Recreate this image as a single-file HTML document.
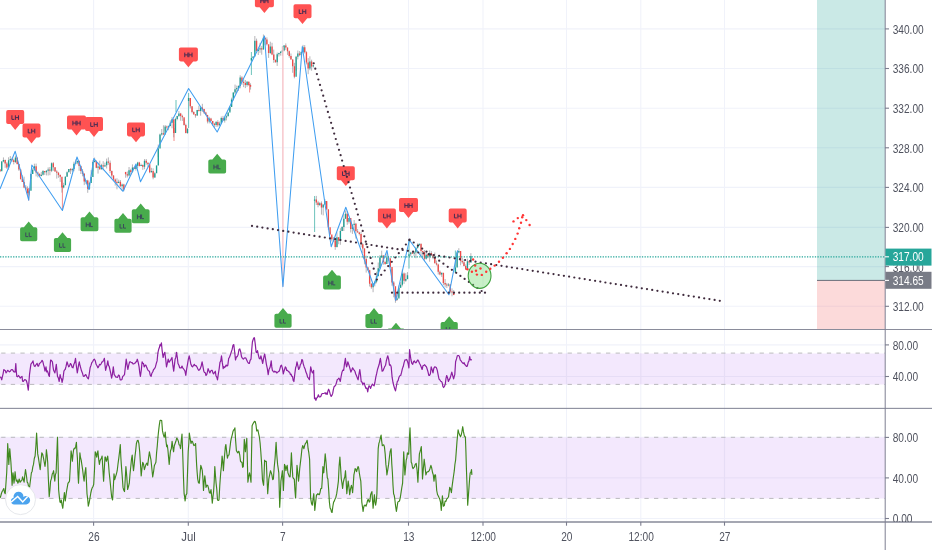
<!DOCTYPE html>
<html><head><meta charset="utf-8"><title>Chart</title>
<style>
html,body{margin:0;padding:0;background:#fff;}
body{width:932px;height:550px;overflow:hidden;font-family:"Liberation Sans",sans-serif;}
svg{display:block;font-family:"Liberation Sans",sans-serif;will-change:transform;}
</style></head><body>
<svg width="932" height="550" viewBox="0 0 932 550">
<defs><clipPath id="mainclip"><rect x="0" y="-20" width="885" height="349.5"/></clipPath>
<filter id="soft" x="-2%" y="-5%" width="104%" height="110%"><feGaussianBlur stdDeviation="0.42"/></filter>
<clipPath id="zclip"><rect x="885" y="500" width="60" height="21.899999999999977"/></clipPath></defs>
<rect width="932" height="550" fill="#fff"/>
<g stroke="#F0F2FA" stroke-width="1.1"><line x1="93.6" y1="0" x2="93.6" y2="521.9"/><line x1="188.3" y1="0" x2="188.3" y2="521.9"/><line x1="282.6" y1="0" x2="282.6" y2="521.9"/><line x1="408.5" y1="0" x2="408.5" y2="521.9"/><line x1="483.0" y1="0" x2="483.0" y2="521.9"/><line x1="566.5" y1="0" x2="566.5" y2="521.9"/><line x1="640.8" y1="0" x2="640.8" y2="521.9"/><line x1="724.5" y1="0" x2="724.5" y2="521.9"/><line x1="0" y1="28.9" x2="885" y2="28.9"/><line x1="0" y1="68.5" x2="885" y2="68.5"/><line x1="0" y1="108.2" x2="885" y2="108.2"/><line x1="0" y1="147.8" x2="885" y2="147.8"/><line x1="0" y1="187.4" x2="885" y2="187.4"/><line x1="0" y1="227.4" x2="885" y2="227.4"/><line x1="0" y1="266.6" x2="885" y2="266.6"/><line x1="0" y1="306.3" x2="885" y2="306.3"/><line x1="0" y1="344.9" x2="885" y2="344.9"/><line x1="0" y1="376.5" x2="885" y2="376.5"/><line x1="0" y1="437.4" x2="885" y2="437.4"/><line x1="0" y1="477.9" x2="885" y2="477.9"/><line x1="0" y1="518.5" x2="885" y2="518.5"/></g>
<rect x="817" y="0" width="68" height="280.4" fill="#26A69A" fill-opacity="0.245"/>
<rect x="817" y="280.4" width="68" height="49.10000000000002" fill="#F2514E" fill-opacity="0.21"/>
<line x1="817" y1="280.4" x2="885" y2="280.4" stroke="#6a6d78" stroke-width="1"/>
<rect x="0" y="353.5" width="885" height="31.0" fill="#F3E8FD"/>
<rect x="0" y="437.3" width="885" height="61.19999999999999" fill="#F3E8FD"/>
<g stroke="#E6DDF6" stroke-width="1"><line x1="0" y1="376.5" x2="885" y2="376.5"/><line x1="0" y1="477.9" x2="885" y2="477.9"/></g>
<g stroke="#E6DDF6" stroke-width="1.2"><line x1="93.6" y1="353.2" x2="93.6" y2="384.2"/><line x1="93.6" y1="437.4" x2="93.6" y2="498.1"/><line x1="188.3" y1="353.2" x2="188.3" y2="384.2"/><line x1="188.3" y1="437.4" x2="188.3" y2="498.1"/><line x1="282.6" y1="353.2" x2="282.6" y2="384.2"/><line x1="282.6" y1="437.4" x2="282.6" y2="498.1"/><line x1="408.5" y1="353.2" x2="408.5" y2="384.2"/><line x1="408.5" y1="437.4" x2="408.5" y2="498.1"/><line x1="483.0" y1="353.2" x2="483.0" y2="384.2"/><line x1="483.0" y1="437.4" x2="483.0" y2="498.1"/><line x1="566.5" y1="353.2" x2="566.5" y2="384.2"/><line x1="566.5" y1="437.4" x2="566.5" y2="498.1"/><line x1="640.8" y1="353.2" x2="640.8" y2="384.2"/><line x1="640.8" y1="437.4" x2="640.8" y2="498.1"/><line x1="724.5" y1="353.2" x2="724.5" y2="384.2"/><line x1="724.5" y1="437.4" x2="724.5" y2="498.1"/></g>
<g stroke="#B9B9BD" stroke-width="1" stroke-dasharray="4.3 5.3" stroke-dashoffset="-1.2"><line x1="0" y1="353.1" x2="885" y2="353.1"/><line x1="0" y1="384.4" x2="885" y2="384.4"/><line x1="0" y1="437.3" x2="885" y2="437.3"/><line x1="0" y1="498.4" x2="885" y2="498.4"/></g>
<g filter="url(#soft)">
<path d="M1.72 161.1V170.2M3.44 157.4V162.3M8.60 157.3V169.9M10.32 156.0V161.7M15.48 155.7V163.0M29.24 188.3V195.4M30.96 173.7V178.9M32.68 168.2V174.0M34.40 163.7V171.1M41.28 171.9V176.4M43.00 170.0V175.5M46.44 170.1V175.4M48.16 167.4V175.5M51.60 162.4V172.1M63.64 182.8V188.3M65.36 176.2V182.2M67.08 171.4V176.6M68.80 169.0V172.2M72.24 167.9V171.9M73.96 161.7V171.2M75.68 159.5V163.8M77.40 160.8V164.3M86.00 180.3V184.1M89.44 182.1V189.6M91.16 170.1V180.6M92.88 160.3V171.5M94.60 157.6V162.5M98.04 162.6V173.6M101.48 163.8V169.5M104.92 162.7V166.8M106.64 158.6V168.5M118.68 179.7V183.2M122.12 183.6V191.0M129.04 167.0V176.3M132.48 164.4V172.7M135.92 165.2V170.6M137.64 161.8V167.9M141.08 163.7V166.1M144.52 159.1V169.2M151.40 167.8V172.5M154.84 172.2V177.8M156.56 165.5V171.0M158.28 144.5V156.9M160.00 133.6V142.5M161.72 129.0V135.6M165.16 125.0V130.6M168.60 125.5V130.2M170.32 120.4V126.3M172.04 117.1V128.3M175.48 117.7V123.0M177.20 115.8V120.3M178.92 111.1V116.9M187.52 128.2V133.8M197.20 109.9V115.8M200.64 107.1V115.7M209.24 116.8V123.4M216.12 121.0V126.9M219.56 121.6V126.0M221.28 116.5V120.4M224.72 117.4V122.6M226.44 115.3V120.4M228.16 112.5V116.2M229.88 106.4V111.0M231.60 97.7V105.8M233.32 92.4V100.6M235.04 84.6V94.2M236.76 85.6V92.7M238.48 85.3V90.9M240.20 75.3V88.3M247.08 81.1V86.7M253.12 56.3V58.0M254.84 36.0V51.7M258.28 48.9V55.0M260.00 42.9V52.8M263.44 34.5V49.6M270.32 41.7V53.9M277.20 52.6V65.9M278.92 52.7V56.5M280.64 51.0V55.6M282.36 46.4V55.8M284.08 45.0V51.3M296.12 55.9V70.6M297.84 50.5V59.4M301.28 51.5V56.5M303.00 44.9V53.0M309.88 56.3V70.2M313.32 65.1V67.6M319.76 202.1V206.0M323.20 204.6V215.4M324.92 199.1V205.2M336.96 232.3V247.5M340.40 228.2V244.8M342.12 226.1V231.1M343.84 214.1V231.0M345.56 210.5V218.8M349.00 218.1V223.5M352.44 224.1V233.9M354.16 220.0V230.7M373.08 283.2V292.2M374.80 280.6V286.4M376.52 271.7V283.3M378.24 262.5V274.3M379.96 255.1V269.3M381.68 250.7V257.8M386.84 253.1V262.1M397.16 293.6V300.6M398.88 285.5V296.8M400.60 282.1V287.8M402.32 269.5V286.4M405.76 273.2V281.8M407.48 272.1V279.4M410.72 251.8V256.4M414.16 251.2V256.1M415.88 246.9V258.2M417.60 243.4V248.7M419.32 243.7V245.5M426.20 251.2V259.6M429.64 250.4V261.7M441.68 272.7V276.9M448.56 283.1V286.4M457.12 251.6V266.5M458.84 248.2V253.3M467.44 258.6V270.0M470.88 253.2V262.6M0.00 169.0V172.1M5.16 159.6V167.8M6.88 162.1V168.9M12.04 157.6V161.9M13.76 158.7V164.4M17.20 157.9V164.6M18.92 164.4V170.9M20.64 169.8V179.7M22.36 175.2V182.0M24.08 176.7V188.2M25.80 185.2V190.0M27.52 186.4V195.3M36.12 163.6V176.4M37.84 171.5V177.4M39.56 173.6V176.5M44.72 171.1V174.9M49.88 167.0V175.2M53.32 162.1V170.8M55.04 167.3V171.7M56.76 170.2V178.6M58.48 171.9V177.8M60.20 174.4V181.9M61.92 180.4V192.6M70.52 168.1V174.0M79.12 160.4V170.8M80.84 165.5V174.0M82.56 169.0V176.3M84.28 173.1V185.1M87.72 179.8V192.8M96.32 161.0V168.2M99.76 160.7V169.7M103.20 161.2V170.3M108.36 157.4V164.8M110.08 160.5V173.2M111.80 170.5V177.9M113.52 175.3V181.1M115.24 178.5V185.6M116.96 178.3V189.3M120.40 180.0V186.8M123.84 183.8V191.2M125.60 171.8V177.7M127.32 171.5V177.5M130.76 168.8V174.8M134.20 167.1V169.1M139.36 161.8V166.5M142.80 164.5V169.9M146.24 159.0V164.7M147.96 162.4V167.3M149.68 166.3V173.2M153.12 168.3V179.3M163.44 125.3V135.0M166.88 125.6V129.7M173.76 124.3V137.3M180.64 112.9V120.7M182.36 114.7V120.9M184.08 118.6V125.6M185.80 123.7V133.4M190.32 98.5V108.4M192.04 106.2V113.3M193.76 111.3V115.0M195.48 114.2V117.7M198.92 105.7V111.5M202.36 103.8V111.9M204.08 108.8V113.9M205.80 111.8V115.2M207.52 114.8V123.4M210.96 117.8V121.7M212.68 120.9V125.7M214.40 122.8V127.9M217.84 120.2V126.8M223.00 115.9V120.9M241.92 76.2V84.8M243.64 79.4V87.1M245.36 80.0V88.1M248.80 81.5V85.8M250.52 83.3V89.6M256.56 38.6V51.0M261.72 45.9V54.7M265.16 37.6V45.1M266.88 37.4V45.5M268.60 44.9V57.9M272.04 42.8V55.2M273.76 49.6V62.8M275.48 59.3V62.6M285.80 43.4V49.9M287.52 47.5V54.9M289.24 50.6V57.7M290.96 53.5V59.5M292.68 59.3V72.8M294.40 62.8V78.3M299.56 51.1V56.2M304.72 45.1V53.5M306.44 51.3V64.4M308.16 58.1V74.2M311.60 59.7V70.7M316.32 195.9V205.0M318.04 200.8V207.3M321.48 201.4V214.6M326.64 202.2V210.1M328.36 218.1V229.9M330.08 231.5V234.5M331.80 236.3V241.4M333.52 237.2V242.0M335.24 237.7V249.8M338.68 237.2V244.2M347.28 211.0V224.8M350.72 220.2V232.5M355.88 222.9V238.6M357.60 228.9V232.4M359.32 231.8V235.4M361.04 232.1V247.2M362.76 243.5V253.1M364.48 248.4V264.3M366.20 255.7V272.6M367.92 267.0V270.3M369.64 269.8V286.5M371.36 283.2V288.8M383.40 255.3V264.7M385.12 260.7V264.9M388.56 256.8V260.7M390.28 257.9V267.9M392.00 268.8V285.7M393.72 281.1V297.3M395.44 289.2V302.8M404.04 272.5V283.9M412.44 251.3V253.9M421.04 243.7V256.5M422.76 250.7V256.1M424.48 250.0V260.8M427.92 253.8V258.3M431.36 251.1V255.9M433.08 254.2V259.2M434.80 252.5V263.4M436.52 260.5V265.5M438.24 263.7V274.5M439.96 270.5V275.3M443.40 275.4V285.3M445.12 279.0V287.3M446.84 282.9V288.0M450.28 284.4V293.3M452.00 288.4V296.3M453.72 290.1V295.1M460.56 252.7V265.3M462.28 257.9V263.7M464.00 259.6V266.3M465.72 264.4V269.9M469.16 260.5V265.0" stroke="#6E6A72" stroke-width="0.85" fill="none" opacity="0.6"/>
<path d="M188.60 93.0V128.0M251.40 52.0V75.0M314.60 196.0V232.0M409.00 239.5V268.6M455.40 250.5V272.0M176 100V112" stroke="#26A69A" stroke-width="0.9" fill="none" opacity="0.75"/>
<path d="M62.4 186V209M28.7 188V200.5M174 128V141M249.6 84V92.5M396 292V301" stroke="#EF5350" stroke-width="0.9" fill="none" opacity="0.75"/>
<path d="M1.72 161.6V171.2M3.44 160.1V161.6M8.60 160.2V167.6M10.32 159.0V160.2M15.48 157.6V162.1M29.24 190.8V193.2M30.96 174.0V190.8M32.68 169.7V174.0M34.40 166.2V169.7M41.28 174.8V176.0M43.00 171.1V174.8M46.44 170.8V172.3M48.16 169.6V170.8M51.60 163.3V170.8M63.64 185.3V187.4M65.36 176.8V185.3M67.08 172.2V176.8M68.80 169.1V172.2M72.24 169.1V170.3M73.96 163.7V169.1M75.68 162.4V163.7M77.40 160.9V162.4M86.00 180.4V181.6M89.44 183.0V188.7M91.16 177.1V183.0M92.88 162.1V177.1M94.60 160.7V162.1M98.04 166.6V167.8M101.48 165.2V169.3M104.92 165.2V166.4M106.64 161.6V165.2M118.68 181.7V182.9M122.12 184.6V186.2M129.04 170.3V175.4M132.48 167.5V172.1M135.92 165.7V169.1M137.64 162.5V165.7M141.08 164.9V166.1M144.52 160.7V166.8M151.40 171.1V172.3M154.84 173.2V177.5M156.56 165.5V173.2M158.28 148.5V165.5M160.00 134.4V148.5M161.72 133.2V134.4M165.16 126.4V134.4M168.60 126.0V127.6M170.32 122.7V126.0M172.04 119.2V122.7M175.48 118.9V132.9M177.20 116.0V118.9M178.92 113.4V116.0M187.52 128.8V133.0M188.60 98.1V101.1M197.20 109.9V115.5M200.64 107.6V111.1M209.24 118.5V121.4M216.12 122.0V125.1M219.56 123.5V125.3M221.28 118.1V123.5M224.72 117.5V120.4M226.44 116.3V117.5M228.16 112.5V116.3M229.88 106.9V112.5M231.60 99.5V106.9M233.32 92.4V99.5M235.04 89.3V92.4M236.76 88.1V89.3M238.48 85.9V88.1M240.20 77.6V85.9M247.08 81.8V85.0M251.40 57.9V60.5M253.12 56.5V57.9M254.84 40.8V56.5M258.28 49.5V51.0M260.00 48.3V49.5M263.44 37.8V49.5M270.32 46.5V52.9M277.20 54.2V62.3M278.92 53.0V54.2M280.64 51.8V53.0M282.36 50.6V51.8M284.08 45.4V50.6M296.12 56.7V76.7M297.84 53.5V56.7M301.28 52.0V55.0M303.00 47.2V52.0M309.88 61.4V68.6M313.32 65.3V66.5M314.60 199.4V200.7M319.76 203.3V205.0M323.20 204.6V207.5M324.92 200.9V204.6M336.96 237.2V246.9M340.40 231.0V240.8M342.12 227.0V231.0M343.84 218.8V227.0M345.56 213.8V218.8M349.00 218.1V221.8M352.44 225.0V229.1M354.16 223.8V225.0M373.08 283.4V287.2M374.80 281.7V283.4M376.52 276.2V281.7M378.24 268.3V276.2M379.96 257.6V268.3M381.68 255.5V257.6M386.84 257.4V264.0M397.16 298.5V299.7M398.88 287.8V298.5M400.60 284.8V287.8M402.32 273.4V284.8M405.76 278.9V280.8M407.48 275.3V278.9M409.00 254.2V255.9M410.72 252.5V254.2M414.16 252.5V253.7M415.88 248.1V252.5M417.60 245.2V248.1M419.32 243.7V245.2M426.20 254.8V258.8M429.64 253.0V256.5M441.68 272.8V274.6M448.56 284.4V285.6M455.40 267.5V272.8M457.12 252.6V267.5M458.84 251.0V252.6M467.44 261.3V269.4M470.88 256.1V262.5" stroke="#1F9F93" stroke-width="1.35" fill="none"/>
<path d="M0.00 169.6V171.2M5.16 160.1V163.5M6.88 163.5V167.6M12.04 159.0V160.2M13.76 160.2V162.1M17.20 157.6V164.0M18.92 164.0V169.6M20.64 169.6V179.1M22.36 179.1V181.9M24.08 181.9V187.4M25.80 187.4V188.7M27.52 188.7V193.2M36.12 166.2V172.6M37.84 172.6V173.8M39.56 173.8V176.0M44.72 171.1V172.3M49.88 169.6V170.8M53.32 163.3V167.3M55.04 167.3V171.5M56.76 171.5V172.7M58.48 172.7V174.9M60.20 174.9V176.7M61.92 176.7V187.4M70.52 169.1V170.3M79.12 160.9V166.0M80.84 166.0V170.9M82.56 170.9V173.7M84.28 173.7V181.6M87.72 180.4V188.7M96.32 160.7V167.8M99.76 166.6V169.3M103.20 165.2V166.4M108.36 161.6V162.8M110.08 162.8V170.9M111.80 170.9V175.6M113.52 175.6V179.5M115.24 179.5V181.7M116.96 181.7V182.9M120.40 181.7V186.2M123.84 184.6V189.6M125.60 172.0V174.2M127.32 174.2V175.4M130.76 170.3V172.1M134.20 167.5V169.1M139.36 162.5V166.1M142.80 164.9V166.8M146.24 160.7V162.7M147.96 162.7V164.2M149.68 164.2V172.3M153.12 171.1V177.5M163.44 133.2V134.4M166.88 126.4V127.6M173.76 119.2V132.9M180.64 113.4V116.0M182.36 116.0V117.2M184.08 117.2V125.1M185.80 125.1V133.0M190.32 98.1V106.3M192.04 106.3V112.0M193.76 112.0V114.3M195.48 114.3V115.5M198.92 109.9V111.1M202.36 107.6V109.0M204.08 109.0V112.6M205.80 112.6V115.1M207.52 115.1V121.4M210.96 118.5V121.0M212.68 121.0V123.7M214.40 123.7V125.1M217.84 122.0V125.3M223.00 118.1V120.4M241.92 77.6V81.8M243.64 81.8V83.1M245.36 83.1V85.0M248.80 81.8V85.0M250.52 85.0V86.8M256.56 40.8V51.0M261.72 48.3V49.5M265.16 37.8V39.5M266.88 39.5V44.3M268.60 44.3V52.9M272.04 46.5V54.4M273.76 54.4V59.9M275.48 59.9V62.3M285.80 45.4V47.5M287.52 47.5V51.2M289.24 51.2V55.9M290.96 55.9V59.4M292.68 59.4V66.3M294.40 66.3V76.7M299.56 53.5V55.0M304.72 47.2V52.3M306.44 52.3V62.5M308.16 62.5V68.6M311.60 61.4V66.5M316.32 199.4V202.4M318.04 202.4V205.0M321.48 203.3V207.5M326.64 200.9V209.3M328.36 209.3V227.3M330.08 227.3V234.4M331.80 234.4V239.3M333.52 239.3V240.5M335.24 240.5V246.9M338.68 237.2V240.8M347.28 213.8V221.8M350.72 218.1V229.1M355.88 223.8V231.2M357.60 231.2V232.4M359.32 232.4V233.9M361.04 233.9V244.3M362.76 244.3V248.6M364.48 248.6V258.9M366.20 258.9V267.4M367.92 267.4V270.2M369.64 270.2V283.7M371.36 283.7V287.2M383.40 255.5V261.9M385.12 261.9V264.0M388.56 257.4V258.6M390.28 258.6V267.0M392.00 267.0V282.4M393.72 282.4V286.3M395.44 286.3V299.7M404.04 273.4V280.8M412.44 252.5V253.7M421.04 243.7V251.1M422.76 251.1V252.3M424.48 252.3V258.8M427.92 254.8V256.5M431.36 253.0V254.5M433.08 254.5V257.9M434.80 257.9V263.3M436.52 263.3V264.5M438.24 264.5V271.8M439.96 271.8V274.6M443.40 272.8V283.0M445.12 283.0V284.4M446.84 284.4V285.6M450.28 284.4V291.4M452.00 291.4V292.6M453.72 292.6V295.0M460.56 251.0V260.9M462.28 260.9V262.3M464.00 262.3V265.9M465.72 265.9V269.4M469.16 261.3V262.5" stroke="#EE4B48" stroke-width="1.35" fill="none"/>
</g>
<line x1="282.9" y1="47" x2="282.9" y2="286.5" stroke="#FAC0C4" stroke-width="1.3"/>
<polyline points="0,189 15.2,151.3 28.7,200.2 31.8,165 62.4,210.5 77,157 89,189.5 93.8,158.6 123,191.3 136,164 140.5,181.8 188.6,88.5 217.2,132 264.5,36 282.9,286.8 302.3,46.5 331.2,246.8 345.8,207.3 373.6,285.8 387,250.4 395.7,300.5 409.4,240.0 448.9,294.8 457.6,250.3" fill="none" stroke="#409EF0" stroke-width="1.05" stroke-linejoin="round"/>
<line x1="0" y1="256.8" x2="885" y2="256.8" stroke="#26A69A" stroke-width="1.25" stroke-dasharray="1.3 1.32"/>
<g clip-path="url(#mainclip)">
<path d="M21.900000000000002 227.3H23.9L28.7 221.5L33.5 227.3H35.5Q37.3 227.3 37.3 229.10000000000002V239.5Q37.3 241.3 35.5 241.3H21.900000000000002Q20.1 241.3 20.1 239.5V229.10000000000002Q20.1 227.3 21.900000000000002 227.3Z" fill="#48AB4C"/><path d="M25.77 232.50V236.60H28.17M29.22 232.50V236.60H31.62" fill="none" stroke="#3C4A5C" stroke-width="1.0"/>
<path d="M55.699999999999996 238.0H57.7L62.5 232.2L67.3 238.0H69.3Q71.1 238.0 71.1 239.8V250.2Q71.1 252.0 69.3 252.0H55.699999999999996Q53.9 252.0 53.9 250.2V239.8Q53.9 238.0 55.699999999999996 238.0Z" fill="#48AB4C"/><path d="M59.58 243.20V247.30H61.98M63.03 243.20V247.30H65.43" fill="none" stroke="#3C4A5C" stroke-width="1.0"/>
<path d="M82.39999999999999 217.3H84.7L89.5 211.5L94.3 217.3H96.60000000000001Q98.4 217.3 98.4 219.10000000000002V229.5Q98.4 231.3 96.60000000000001 231.3H82.39999999999999Q80.6 231.3 80.6 229.5V219.10000000000002Q80.6 217.3 82.39999999999999 217.3Z" fill="#48AB4C"/><path d="M86.22 222.50V227.10M89.32 222.50V227.10M86.22 224.80H89.32M90.38 222.50V226.60H92.78" fill="none" stroke="#3C4A5C" stroke-width="1.0"/>
<path d="M116.2 218.8H118.2L123 213.0L127.8 218.8H129.79999999999998Q131.6 218.8 131.6 220.60000000000002V231.0Q131.6 232.8 129.79999999999998 232.8H116.2Q114.4 232.8 114.4 231.0V220.60000000000002Q114.4 218.8 116.2 218.8Z" fill="#48AB4C"/><path d="M120.08 224.00V228.10H122.48M123.53 224.00V228.10H125.93" fill="none" stroke="#3C4A5C" stroke-width="1.0"/>
<path d="M133.6 209.3H135.89999999999998L140.7 203.5L145.5 209.3H147.79999999999998Q149.6 209.3 149.6 211.10000000000002V221.5Q149.6 223.3 147.79999999999998 223.3H133.6Q131.79999999999998 223.3 131.79999999999998 221.5V211.10000000000002Q131.79999999999998 209.3 133.6 209.3Z" fill="#48AB4C"/><path d="M137.42 214.50V219.10M140.52 214.50V219.10M137.42 216.80H140.52M141.57 214.50V218.60H143.97" fill="none" stroke="#3C4A5C" stroke-width="1.0"/>
<path d="M210.1 159.5H212.39999999999998L217.2 153.7L222.0 159.5H224.29999999999998Q226.1 159.5 226.1 161.3V171.7Q226.1 173.5 224.29999999999998 173.5H210.1Q208.29999999999998 173.5 208.29999999999998 171.7V161.3Q208.29999999999998 159.5 210.1 159.5Z" fill="#48AB4C"/><path d="M213.92 164.70V169.30M217.02 164.70V169.30M213.92 167.00H217.02M218.07 164.70V168.80H220.47" fill="none" stroke="#3C4A5C" stroke-width="1.0"/>
<path d="M276.2 313.8H278.2L283 308.0L287.8 313.8H289.8Q291.6 313.8 291.6 315.6V326.0Q291.6 327.8 289.8 327.8H276.2Q274.4 327.8 274.4 326.0V315.6Q274.4 313.8 276.2 313.8Z" fill="#48AB4C"/><path d="M280.07 319.00V323.10H282.47M283.52 319.00V323.10H285.92" fill="none" stroke="#3C4A5C" stroke-width="1.0"/>
<path d="M324.90000000000003 275.6H327.2L332 269.8L336.8 275.6H339.09999999999997Q340.9 275.6 340.9 277.40000000000003V287.8Q340.9 289.6 339.09999999999997 289.6H324.90000000000003Q323.1 289.6 323.1 287.8V277.40000000000003Q323.1 275.6 324.90000000000003 275.6Z" fill="#48AB4C"/><path d="M328.73 280.80V285.40M331.83 280.80V285.40M328.73 283.10H331.83M332.88 280.80V284.90H335.27" fill="none" stroke="#3C4A5C" stroke-width="1.0"/>
<path d="M367.2 313.90000000000003H369.2L374 308.1L378.8 313.90000000000003H380.8Q382.6 313.90000000000003 382.6 315.70000000000005V326.1Q382.6 327.90000000000003 380.8 327.90000000000003H367.2Q365.4 327.90000000000003 365.4 326.1V315.70000000000005Q365.4 313.90000000000003 367.2 313.90000000000003Z" fill="#48AB4C"/><path d="M371.07 319.10V323.20H373.47M374.52 319.10V323.20H376.92" fill="none" stroke="#3C4A5C" stroke-width="1.0"/>
<path d="M389.2 328.6H391.2L396 322.8L400.8 328.6H402.8Q404.6 328.6 404.6 330.40000000000003V340.8Q404.6 342.6 402.8 342.6H389.2Q387.4 342.6 387.4 340.8V330.40000000000003Q387.4 328.6 389.2 328.6Z" fill="#48AB4C"/><path d="M393.07 333.80V337.90H395.47M396.52 333.80V337.90H398.92" fill="none" stroke="#3C4A5C" stroke-width="1.0"/>
<path d="M442.4 322.0H444.4L449.2 316.2L454.0 322.0H456.0Q457.8 322.0 457.8 323.8V334.2Q457.8 336.0 456.0 336.0H442.4Q440.59999999999997 336.0 440.59999999999997 334.2V323.8Q440.59999999999997 322.0 442.4 322.0Z" fill="#48AB4C"/><path d="M446.27 327.20V331.30H448.67M449.72 327.20V331.30H452.12" fill="none" stroke="#3C4A5C" stroke-width="1.0"/>
<path d="M7.999999999999999 110.10000000000001H22.4Q24.2 110.10000000000001 24.2 111.9V122.30000000000001Q24.2 124.10000000000001 22.4 124.10000000000001H20.0L15.2 129.9L10.399999999999999 124.10000000000001H7.999999999999999Q6.199999999999999 124.10000000000001 6.199999999999999 122.30000000000001V111.9Q6.199999999999999 110.10000000000001 7.999999999999999 110.10000000000001Z" fill="#FF5252"/><path d="M11.92 115.30V119.40H14.32M15.38 115.30V119.90M18.48 115.30V119.90M15.38 117.60H18.48" fill="none" stroke="#482C52" stroke-width="1.0"/>
<path d="M24.3 123.6H38.7Q40.5 123.6 40.5 125.39999999999999V135.79999999999998Q40.5 137.6 38.7 137.6H36.3L31.5 143.4L26.7 137.6H24.3Q22.5 137.6 22.5 135.79999999999998V125.39999999999999Q22.5 123.6 24.3 123.6Z" fill="#FF5252"/><path d="M28.23 128.80V132.90H30.62M31.68 128.80V133.40M34.77 128.80V133.40M31.68 131.10H34.77" fill="none" stroke="#482C52" stroke-width="1.0"/>
<path d="M68.8 115.6H84.2Q86.0 115.6 86.0 117.39999999999999V127.8Q86.0 129.6 84.2 129.6H81.3L76.5 135.4L71.7 129.6H68.8Q67.0 129.6 67.0 127.8V117.39999999999999Q67.0 115.6 68.8 115.6Z" fill="#FF5252"/><path d="M72.88 120.80V125.40M75.97 120.80V125.40M72.88 123.10H75.97M77.03 120.80V125.40M80.12 120.80V125.40M77.03 123.10H80.12" fill="none" stroke="#482C52" stroke-width="1.0"/>
<path d="M86.8 117.1H101.2Q103.0 117.1 103.0 118.89999999999999V129.29999999999998Q103.0 131.1 101.2 131.1H98.8L94 136.9L89.2 131.1H86.8Q85.0 131.1 85.0 129.29999999999998V118.89999999999999Q85.0 117.1 86.8 117.1Z" fill="#FF5252"/><path d="M90.72 122.30V126.40H93.12M94.17 122.30V126.90M97.27 122.30V126.90M94.17 124.60H97.27" fill="none" stroke="#482C52" stroke-width="1.0"/>
<path d="M128.8 122.39999999999998H143.2Q145.0 122.39999999999998 145.0 124.19999999999997V134.59999999999997Q145.0 136.39999999999998 143.2 136.39999999999998H140.8L136 142.2L131.2 136.39999999999998H128.8Q127.0 136.39999999999998 127.0 134.59999999999997V124.19999999999997Q127.0 122.39999999999998 128.8 122.39999999999998Z" fill="#FF5252"/><path d="M132.72 127.60V131.70H135.12M136.17 127.60V132.20M139.27 127.60V132.20M136.17 129.90H139.27" fill="none" stroke="#482C52" stroke-width="1.0"/>
<path d="M180.70000000000002 47.400000000000006H196.1Q197.9 47.400000000000006 197.9 49.2V59.60000000000001Q197.9 61.400000000000006 196.1 61.400000000000006H193.20000000000002L188.4 67.2L183.6 61.400000000000006H180.70000000000002Q178.9 61.400000000000006 178.9 59.60000000000001V49.2Q178.9 47.400000000000006 180.70000000000002 47.400000000000006Z" fill="#FF5252"/><path d="M184.78 52.60V57.20M187.88 52.60V57.20M184.78 54.90H187.88M188.93 52.60V57.20M192.03 52.60V57.20M188.93 54.90H192.03" fill="none" stroke="#482C52" stroke-width="1.0"/>
<path d="M256.7 -6.7H272.09999999999997Q273.9 -6.7 273.9 -4.9V5.5Q273.9 7.3 272.09999999999997 7.3H269.2L264.4 13.1L259.59999999999997 7.3H256.7Q254.89999999999998 7.3 254.89999999999998 5.5V-4.9Q254.89999999999998 -6.7 256.7 -6.7Z" fill="#FF5252"/><path d="M260.77 -1.50V3.10M263.88 -1.50V3.10M260.77 0.80H263.88M264.92 -1.50V3.10M268.02 -1.50V3.10M264.92 0.80H268.02" fill="none" stroke="#482C52" stroke-width="1.0"/>
<path d="M295.3 4.199999999999999H309.7Q311.5 4.199999999999999 311.5 5.999999999999999V16.4Q311.5 18.2 309.7 18.2H307.3L302.5 24.0L297.7 18.2H295.3Q293.5 18.2 293.5 16.4V5.999999999999999Q293.5 4.199999999999999 295.3 4.199999999999999Z" fill="#FF5252"/><path d="M299.23 9.40V13.50H301.62M302.68 9.40V14.00M305.78 9.40V14.00M302.68 11.70H305.78" fill="none" stroke="#482C52" stroke-width="1.0"/>
<path d="M338.6 166.2H353.0Q354.8 166.2 354.8 168.0V178.39999999999998Q354.8 180.2 353.0 180.2H350.6L345.8 186.0L341.0 180.2H338.6Q336.8 180.2 336.8 178.39999999999998V168.0Q336.8 166.2 338.6 166.2Z" fill="#FF5252"/><path d="M342.53 171.40V175.50H344.93M345.98 171.40V176.00M349.08 171.40V176.00M345.98 173.70H349.08" fill="none" stroke="#482C52" stroke-width="1.0"/>
<path d="M379.7 208.6H394.09999999999997Q395.9 208.6 395.9 210.4V220.79999999999998Q395.9 222.6 394.09999999999997 222.6H391.7L386.9 228.4L382.09999999999997 222.6H379.7Q377.9 222.6 377.9 220.79999999999998V210.4Q377.9 208.6 379.7 208.6Z" fill="#FF5252"/><path d="M383.62 213.80V217.90H386.02M387.07 213.80V218.40M390.18 213.80V218.40M387.07 216.10H390.18" fill="none" stroke="#482C52" stroke-width="1.0"/>
<path d="M400.8 198.1H416.2Q418.0 198.1 418.0 199.9V210.29999999999998Q418.0 212.1 416.2 212.1H413.3L408.5 217.9L403.7 212.1H400.8Q399.0 212.1 399.0 210.29999999999998V199.9Q399.0 198.1 400.8 198.1Z" fill="#FF5252"/><path d="M404.88 203.30V207.90M407.98 203.30V207.90M404.88 205.60H407.98M409.02 203.30V207.90M412.12 203.30V207.90M409.02 205.60H412.12" fill="none" stroke="#482C52" stroke-width="1.0"/>
<path d="M450.5 208.6H464.9Q466.7 208.6 466.7 210.4V220.79999999999998Q466.7 222.6 464.9 222.6H462.5L457.7 228.4L452.9 222.6H450.5Q448.7 222.6 448.7 220.79999999999998V210.4Q448.7 208.6 450.5 208.6Z" fill="#FF5252"/><path d="M454.43 213.80V217.90H456.82M457.88 213.80V218.40M460.98 213.80V218.40M457.88 216.10H460.98" fill="none" stroke="#482C52" stroke-width="1.0"/>
</g>
<g fill="#3E2A3C"><circle cx="313.7" cy="63.3" r="1.12"/><circle cx="315.3" cy="68.7" r="1.12"/><circle cx="316.9" cy="74.1" r="1.12"/><circle cx="318.4" cy="79.5" r="1.12"/><circle cx="320.0" cy="84.9" r="1.12"/><circle cx="321.6" cy="90.3" r="1.12"/><circle cx="323.2" cy="95.7" r="1.12"/><circle cx="324.8" cy="101.1" r="1.12"/><circle cx="326.3" cy="106.5" r="1.12"/><circle cx="327.9" cy="111.9" r="1.12"/><circle cx="329.5" cy="117.3" r="1.12"/><circle cx="331.1" cy="122.8" r="1.12"/><circle cx="332.7" cy="128.2" r="1.12"/><circle cx="334.2" cy="133.6" r="1.12"/><circle cx="335.8" cy="139.0" r="1.12"/><circle cx="337.4" cy="144.4" r="1.12"/><circle cx="339.0" cy="149.8" r="1.12"/><circle cx="340.6" cy="155.2" r="1.12"/><circle cx="342.1" cy="160.6" r="1.12"/><circle cx="343.7" cy="166.0" r="1.12"/><circle cx="345.3" cy="171.4" r="1.12"/><circle cx="346.9" cy="176.8" r="1.12"/><circle cx="348.5" cy="182.2" r="1.12"/><circle cx="350.0" cy="187.6" r="1.12"/><circle cx="351.6" cy="193.0" r="1.12"/><circle cx="353.2" cy="198.4" r="1.12"/><circle cx="354.8" cy="203.8" r="1.12"/><circle cx="356.4" cy="209.2" r="1.12"/><circle cx="357.9" cy="214.6" r="1.12"/><circle cx="359.5" cy="220.0" r="1.12"/><circle cx="361.1" cy="225.4" r="1.12"/><circle cx="362.7" cy="230.9" r="1.12"/><circle cx="364.3" cy="236.3" r="1.12"/><circle cx="365.8" cy="241.7" r="1.12"/><circle cx="367.4" cy="247.1" r="1.12"/><circle cx="369.0" cy="252.5" r="1.12"/><circle cx="370.6" cy="257.9" r="1.12"/><circle cx="372.2" cy="263.3" r="1.12"/><circle cx="373.7" cy="268.7" r="1.12"/><circle cx="375.3" cy="274.1" r="1.12"/><circle cx="376.9" cy="279.5" r="1.12"/></g>
<g fill="#3E2A3C"><circle cx="252.0" cy="225.9" r="1.12"/><circle cx="257.2" cy="226.7" r="1.12"/><circle cx="262.4" cy="227.6" r="1.12"/><circle cx="267.6" cy="228.4" r="1.12"/><circle cx="272.8" cy="229.2" r="1.12"/><circle cx="278.0" cy="230.1" r="1.12"/><circle cx="283.2" cy="230.9" r="1.12"/><circle cx="288.4" cy="231.7" r="1.12"/><circle cx="293.6" cy="232.6" r="1.12"/><circle cx="298.8" cy="233.4" r="1.12"/><circle cx="304.0" cy="234.2" r="1.12"/><circle cx="309.2" cy="235.0" r="1.12"/><circle cx="314.4" cy="235.9" r="1.12"/><circle cx="319.6" cy="236.7" r="1.12"/><circle cx="324.8" cy="237.5" r="1.12"/><circle cx="330.0" cy="238.4" r="1.12"/><circle cx="335.2" cy="239.2" r="1.12"/><circle cx="340.4" cy="240.0" r="1.12"/><circle cx="345.6" cy="240.9" r="1.12"/><circle cx="350.8" cy="241.7" r="1.12"/><circle cx="356.0" cy="242.5" r="1.12"/><circle cx="361.2" cy="243.4" r="1.12"/><circle cx="366.4" cy="244.2" r="1.12"/><circle cx="371.5" cy="245.0" r="1.12"/><circle cx="376.7" cy="245.9" r="1.12"/><circle cx="381.9" cy="246.7" r="1.12"/><circle cx="387.1" cy="247.5" r="1.12"/><circle cx="392.3" cy="248.4" r="1.12"/><circle cx="397.5" cy="249.2" r="1.12"/><circle cx="402.7" cy="250.0" r="1.12"/><circle cx="407.9" cy="250.8" r="1.12"/><circle cx="413.1" cy="251.7" r="1.12"/><circle cx="418.3" cy="252.5" r="1.12"/><circle cx="423.5" cy="253.3" r="1.12"/><circle cx="428.7" cy="254.2" r="1.12"/><circle cx="433.9" cy="255.0" r="1.12"/><circle cx="439.1" cy="255.8" r="1.12"/><circle cx="444.3" cy="256.7" r="1.12"/><circle cx="449.5" cy="257.5" r="1.12"/><circle cx="454.7" cy="258.3" r="1.12"/><circle cx="459.9" cy="259.2" r="1.12"/><circle cx="465.1" cy="260.0" r="1.12"/><circle cx="470.3" cy="260.8" r="1.12"/><circle cx="475.5" cy="261.7" r="1.12"/><circle cx="480.7" cy="262.5" r="1.12"/><circle cx="485.9" cy="263.3" r="1.12"/><circle cx="491.1" cy="264.2" r="1.12"/><circle cx="496.3" cy="265.0" r="1.12"/><circle cx="501.5" cy="265.8" r="1.12"/><circle cx="506.7" cy="266.7" r="1.12"/><circle cx="511.9" cy="267.5" r="1.12"/><circle cx="517.1" cy="268.3" r="1.12"/><circle cx="522.3" cy="269.1" r="1.12"/><circle cx="527.5" cy="270.0" r="1.12"/><circle cx="532.7" cy="270.8" r="1.12"/><circle cx="537.9" cy="271.6" r="1.12"/><circle cx="543.1" cy="272.5" r="1.12"/><circle cx="548.3" cy="273.3" r="1.12"/><circle cx="553.5" cy="274.1" r="1.12"/><circle cx="558.7" cy="275.0" r="1.12"/><circle cx="563.9" cy="275.8" r="1.12"/><circle cx="569.1" cy="276.6" r="1.12"/><circle cx="574.3" cy="277.5" r="1.12"/><circle cx="579.5" cy="278.3" r="1.12"/><circle cx="584.7" cy="279.1" r="1.12"/><circle cx="589.9" cy="280.0" r="1.12"/><circle cx="595.1" cy="280.8" r="1.12"/><circle cx="600.3" cy="281.6" r="1.12"/><circle cx="605.4" cy="282.5" r="1.12"/><circle cx="610.6" cy="283.3" r="1.12"/><circle cx="615.8" cy="284.1" r="1.12"/><circle cx="621.0" cy="284.9" r="1.12"/><circle cx="626.2" cy="285.8" r="1.12"/><circle cx="631.4" cy="286.6" r="1.12"/><circle cx="636.6" cy="287.4" r="1.12"/><circle cx="641.8" cy="288.3" r="1.12"/><circle cx="647.0" cy="289.1" r="1.12"/><circle cx="652.2" cy="289.9" r="1.12"/><circle cx="657.4" cy="290.8" r="1.12"/><circle cx="662.6" cy="291.6" r="1.12"/><circle cx="667.8" cy="292.4" r="1.12"/><circle cx="673.0" cy="293.3" r="1.12"/><circle cx="678.2" cy="294.1" r="1.12"/><circle cx="683.4" cy="294.9" r="1.12"/><circle cx="688.6" cy="295.8" r="1.12"/><circle cx="693.8" cy="296.6" r="1.12"/><circle cx="699.0" cy="297.4" r="1.12"/><circle cx="704.2" cy="298.3" r="1.12"/><circle cx="709.4" cy="299.1" r="1.12"/><circle cx="714.6" cy="299.9" r="1.12"/><circle cx="719.8" cy="300.8" r="1.12"/></g>
<g fill="#3E2A3C"><circle cx="409.5" cy="239.5" r="1.12"/><circle cx="413.7" cy="242.5" r="1.12"/><circle cx="418.0" cy="245.6" r="1.12"/><circle cx="422.2" cy="248.6" r="1.12"/><circle cx="426.5" cy="251.6" r="1.12"/><circle cx="430.7" cy="254.6" r="1.12"/><circle cx="434.9" cy="257.7" r="1.12"/><circle cx="439.2" cy="260.7" r="1.12"/><circle cx="443.4" cy="263.7" r="1.12"/><circle cx="447.7" cy="266.8" r="1.12"/><circle cx="451.9" cy="269.8" r="1.12"/><circle cx="456.2" cy="272.8" r="1.12"/><circle cx="460.4" cy="275.9" r="1.12"/><circle cx="464.6" cy="278.9" r="1.12"/><circle cx="468.9" cy="281.9" r="1.12"/><circle cx="473.1" cy="284.9" r="1.12"/><circle cx="477.4" cy="288.0" r="1.12"/><circle cx="481.6" cy="291.0" r="1.12"/></g>
<g fill="#3E2A3C"><circle cx="392.0" cy="292.7" r="1.12"/><circle cx="397.2" cy="292.7" r="1.12"/><circle cx="402.3" cy="292.7" r="1.12"/><circle cx="407.5" cy="292.7" r="1.12"/><circle cx="412.7" cy="292.7" r="1.12"/><circle cx="417.8" cy="292.7" r="1.12"/><circle cx="423.0" cy="292.7" r="1.12"/><circle cx="428.2" cy="292.7" r="1.12"/><circle cx="433.3" cy="292.7" r="1.12"/><circle cx="438.5" cy="292.7" r="1.12"/><circle cx="443.7" cy="292.7" r="1.12"/><circle cx="448.8" cy="292.7" r="1.12"/><circle cx="454.0" cy="292.7" r="1.12"/><circle cx="459.2" cy="292.7" r="1.12"/><circle cx="464.3" cy="292.7" r="1.12"/><circle cx="469.5" cy="292.7" r="1.12"/><circle cx="474.7" cy="292.7" r="1.12"/><circle cx="479.8" cy="292.7" r="1.12"/><circle cx="485.0" cy="292.7" r="1.12"/></g>
<g fill="#3E2A3C"><circle cx="381.2" cy="274.8" r="1.12"/><circle cx="384.7" cy="270.5" r="1.12"/><circle cx="388.2" cy="266.1" r="1.12"/><circle cx="391.8" cy="261.8" r="1.12"/><circle cx="395.3" cy="257.5" r="1.12"/><circle cx="398.8" cy="253.2" r="1.12"/><circle cx="402.3" cy="248.8" r="1.12"/><circle cx="405.9" cy="244.5" r="1.12"/><circle cx="409.4" cy="240.2" r="1.12"/></g>
<ellipse cx="479.6" cy="275.8" rx="11.4" ry="12.6" fill="#7DDC7D" fill-opacity="0.42" stroke="#3FA23F" stroke-width="1.1"/>
<g fill="#FF3535"><circle cx="473.1" cy="259.5" r="1.2"/><circle cx="475.1" cy="265.6" r="1.2"/><circle cx="467.4" cy="269.3" r="1.2"/><circle cx="471.9" cy="271.8" r="1.2"/><circle cx="476" cy="270.8" r="1.2"/><circle cx="480.5" cy="268.5" r="1.2"/><circle cx="476.9" cy="274.6" r="1.2"/><circle cx="481.8" cy="274.9" r="1.2"/><circle cx="486.2" cy="271.8" r="1.2"/><circle cx="490.3" cy="268.8" r="1.2"/><circle cx="494.7" cy="265.6" r="1.2"/><circle cx="499" cy="261.8" r="1.2"/><circle cx="502.9" cy="257.7" r="1.2"/><circle cx="506.6" cy="253.3" r="1.2"/><circle cx="509.9" cy="248.9" r="1.2"/><circle cx="512.7" cy="244" r="1.2"/><circle cx="515.3" cy="238.9" r="1.2"/><circle cx="517.6" cy="233.6" r="1.2"/><circle cx="519.2" cy="228.2" r="1.2"/><circle cx="521" cy="222.7" r="1.2"/><circle cx="522.2" cy="217.3" r="1.2"/><circle cx="523" cy="215.3" r="1.2"/><circle cx="513.5" cy="221.4" r="1.2"/><circle cx="517.8" cy="218.1" r="1.2"/><circle cx="526.3" cy="220.1" r="1.2"/><circle cx="529.6" cy="225" r="1.2"/></g>
<polyline points="0.0,377.2 0.9,377.4 1.7,379.8 2.4,376.7 3.1,373.8 3.8,369.5 4.5,370.2 5.3,370.6 6.0,372.9 6.9,371.6 7.7,370.3 8.6,371.1 9.4,371.9 10.3,371.2 11.2,369.8 12.0,369.5 12.9,370.3 13.6,371.6 14.4,371.9 15.1,372.1 15.8,363.5 16.3,371.3 16.8,376.4 17.7,376.8 18.5,375.5 19.4,376.7 20.3,378.1 21.1,377.0 22.0,376.4 22.6,381.2 23.2,381.5 23.9,380.7 24.7,379.7 25.4,379.8 26.3,380.5 27.1,383.2 27.7,386.7 28.3,390.1 28.9,382.5 29.5,374.6 30.2,369.2 30.9,364.3 31.6,363.1 32.3,362.3 33.0,360.9 33.6,364.1 34.3,366.1 35.0,366.5 35.7,365.1 36.4,364.3 37.1,363.3 37.9,366.1 38.6,366.1 39.5,363.3 40.3,363.0 41.2,361.8 42.1,360.4 42.9,361.8 43.6,364.9 44.3,367.4 45.0,371.2 45.5,369.2 46.0,366.9 46.7,371.9 47.4,370.9 48.1,372.9 48.8,375.4 49.4,376.4 50.0,367.0 50.6,360.0 51.5,360.6 52.4,361.8 53.0,366.6 53.6,370.3 54.2,371.5 54.9,372.9 55.6,369.0 56.3,364.3 56.9,370.4 57.5,376.4 58.4,378.0 59.2,381.5 60.1,374.6 60.8,377.7 61.5,379.1 62.1,382.4 63.0,378.5 63.9,371.2 64.5,369.9 65.2,369.5 66.1,366.2 67.0,361.8 67.8,364.3 68.7,366.9 69.5,366.1 70.4,363.5 71.2,364.4 72.1,367.2 73.0,367.8 73.8,364.5 74.7,362.6 75.5,358.3 76.4,366.2 77.3,372.9 77.9,369.3 78.6,364.8 79.3,361.8 80.0,365.5 80.7,367.8 81.5,370.8 82.4,372.9 83.3,376.1 84.1,376.4 85.0,375.2 85.8,374.6 86.7,376.6 87.6,378.0 88.4,378.9 89.3,373.6 90.1,367.8 91.0,365.4 91.8,362.6 92.7,361.6 93.6,359.8 94.4,359.2 95.3,360.8 96.1,364.3 97.0,365.7 97.9,367.8 98.7,366.6 99.6,364.3 100.4,364.8 101.3,363.5 102.1,361.8 102.9,361.6 103.6,360.2 104.4,358.3 105.0,365.0 105.6,370.3 106.3,367.4 107.1,364.7 107.8,360.9 108.5,365.4 109.2,366.3 109.9,369.5 110.7,373.2 111.6,378.1 112.4,374.3 113.3,366.9 114.2,374.6 115.0,375.7 115.9,377.2 116.7,377.2 117.6,377.4 118.5,375.0 119.3,375.5 120.2,379.8 121.0,379.8 121.9,379.7 122.7,376.4 123.6,375.7 124.5,374.6 125.3,367.6 126.2,359.2 127.0,364.4 127.9,369.5 128.8,364.8 129.6,361.8 130.5,361.9 131.3,362.7 132.2,362.6 133.0,363.9 133.9,363.8 134.8,363.5 135.6,362.1 136.5,361.8 137.3,359.2 138.2,362.4 139.1,366.9 139.7,372.3 140.4,376.4 141.3,370.1 142.1,361.8 142.8,363.2 143.5,363.6 144.2,366.9 145.1,365.2 145.9,365.2 146.8,367.6 147.6,369.5 148.5,370.8 149.4,371.2 150.2,375.2 151.1,376.4 151.9,373.2 152.8,371.8 153.6,369.5 154.5,368.8 155.4,366.9 156.2,363.8 157.1,360.9 157.9,352.8 158.8,348.9 159.4,347.5 160.0,344.6 160.7,345.8 161.4,342.9 162.2,351.1 163.1,357.5 163.9,354.1 164.8,352.3 165.7,359.2 166.5,366.9 167.4,363.2 168.2,359.2 169.1,362.3 170.0,360.9 170.6,360.3 171.3,358.7 172.0,357.5 172.9,365.7 173.7,371.2 174.4,365.1 175.1,359.2 175.8,357.4 176.5,352.3 177.3,357.3 178.0,363.5 178.9,365.2 179.7,367.8 180.5,367.8 181.2,367.9 182.0,366.1 182.7,367.8 183.3,368.6 184.0,369.5 184.9,370.8 185.8,375.5 186.6,369.3 187.5,364.3 188.3,359.5 189.2,355.8 190.0,359.6 190.9,364.3 191.8,366.2 192.6,366.9 193.5,365.3 194.3,364.3 195.0,365.6 195.7,365.6 196.4,366.1 197.1,367.2 197.9,369.0 198.6,370.3 199.5,369.9 200.3,368.6 201.2,366.0 202.1,361.8 202.9,366.1 203.8,371.2 204.5,372.4 205.3,372.8 206.0,375.5 206.7,374.6 207.4,372.2 208.1,368.6 208.9,370.6 209.8,372.9 210.6,371.2 211.5,370.3 212.2,370.4 212.9,372.8 213.6,373.8 214.4,372.7 215.3,371.2 216.0,376.0 216.8,377.1 217.5,379.8 218.4,373.5 219.2,368.6 220.0,362.1 220.7,361.3 221.5,355.8 222.3,362.4 223.2,368.6 223.9,366.6 224.5,367.6 225.2,366.9 226.1,365.0 227.0,366.1 227.8,365.3 228.7,358.3 229.5,357.3 230.4,354.8 231.2,352.3 232.1,349.6 233.0,345.2 233.8,344.6 234.7,352.2 235.5,360.0 236.4,356.9 237.3,356.6 238.1,354.6 239.0,349.5 239.8,348.9 240.7,351.9 241.5,356.6 242.4,358.3 243.3,359.2 244.1,358.3 245.0,357.8 245.8,358.1 246.7,360.0 247.6,362.0 248.4,363.1 249.3,363.5 250.1,360.4 251.0,359.2 251.7,350.0 252.4,342.0 253.0,340.0 253.7,338.1 254.4,337.7 255.3,344.4 256.1,352.3 256.8,352.6 257.5,350.6 258.4,355.1 259.2,358.3 260.1,358.9 260.9,355.8 261.8,359.5 262.7,363.5 263.3,360.2 264.0,356.3 264.7,354.0 265.6,359.1 266.4,364.3 267.3,368.3 268.2,374.6 269.0,369.6 269.9,367.8 270.6,365.0 271.2,360.9 271.8,366.9 272.4,370.3 273.2,371.4 273.9,372.1 274.7,371.2 275.4,372.0 276.1,371.7 276.7,372.9 277.6,372.4 278.5,371.4 279.3,371.2 280.1,368.2 280.8,365.7 281.5,365.2 282.4,368.2 283.3,373.8 283.9,371.5 284.6,369.3 285.3,366.9 286.0,367.6 286.7,370.5 287.4,370.3 288.1,371.1 288.9,372.0 289.6,372.1 290.4,374.6 291.1,374.2 291.8,376.4 292.5,376.3 293.2,380.5 293.9,381.5 294.8,374.0 295.6,367.8 296.3,365.9 297.0,361.8 297.9,365.9 298.7,369.5 299.6,367.8 300.4,364.3 301.1,363.6 301.8,359.6 302.5,360.0 303.3,364.1 304.2,366.9 305.1,368.9 305.9,372.1 306.8,374.0 307.6,377.2 308.5,378.1 309.4,379.8 310.0,374.0 310.7,366.9 311.6,370.7 312.4,372.9 313.0,372.5 313.6,370.3 314.5,398.7 315.2,398.0 315.9,400.4 316.7,398.1 317.6,397.0 318.4,394.8 319.2,396.9 320.0,397.0 320.9,396.3 321.7,394.0 322.6,393.5 323.4,393.5 324.3,393.2 325.2,392.7 325.8,394.1 326.5,393.1 327.2,394.4 327.9,391.1 328.6,389.2 329.4,391.1 330.3,394.4 331.2,396.4 332.0,395.2 332.7,393.4 333.4,389.4 334.1,386.7 334.9,386.0 335.8,384.9 336.5,382.5 337.2,379.8 338.0,379.1 338.9,378.1 339.6,379.6 340.3,381.5 341.1,376.5 342.0,372.1 342.8,370.1 343.7,370.3 344.5,363.8 345.4,358.3 346.0,364.1 346.6,366.9 347.2,364.8 347.8,361.8 348.7,364.4 349.5,366.9 350.2,369.3 350.9,372.1 351.8,370.0 352.6,367.8 353.5,369.4 354.3,370.3 355.0,371.5 355.7,374.0 356.4,375.5 357.3,377.9 358.1,379.8 359.0,374.0 359.8,369.5 360.5,374.8 361.2,381.5 362.1,382.3 362.9,384.9 363.6,383.1 364.3,383.2 365.2,386.6 366.0,388.4 366.9,388.0 367.7,391.8 368.3,388.6 368.9,385.8 369.8,386.5 370.6,388.4 371.5,385.7 372.4,384.1 373.2,385.0 374.1,385.8 374.9,382.5 375.8,377.2 376.7,373.4 377.5,369.5 378.4,366.8 379.2,364.3 379.8,360.8 380.4,358.3 381.3,364.6 382.1,371.2 383.0,370.7 383.9,368.6 384.7,366.6 385.6,365.2 386.3,361.0 387.1,357.8 387.8,355.8 388.7,359.5 389.5,365.2 390.4,364.8 391.2,366.9 392.1,377.2 393.0,382.5 393.8,385.8 394.7,388.7 395.5,390.9 396.4,386.0 397.3,381.5 398.1,380.7 399.0,377.2 399.8,375.8 400.7,375.5 401.5,372.7 402.4,368.6 403.3,366.3 404.1,362.6 405.0,359.9 405.8,360.0 406.7,359.5 407.6,361.8 408.2,363.9 408.9,367.8 409.6,349.7 410.3,355.7 411.0,360.0 411.8,363.4 412.7,364.3 413.6,361.5 414.4,360.9 415.3,362.7 416.1,362.6 417.0,361.0 417.9,360.0 418.7,361.4 419.6,363.5 420.4,365.0 421.3,367.2 422.1,369.5 423.0,365.7 423.9,365.2 424.7,364.7 425.6,366.1 426.4,366.7 427.3,369.5 428.0,371.9 428.8,375.4 429.5,375.5 430.4,373.7 431.2,366.9 432.1,369.6 433.0,372.9 433.8,368.4 434.7,366.9 435.5,367.0 436.4,367.8 437.3,370.4 438.1,374.6 439.0,379.0 439.8,379.8 440.7,381.2 441.5,381.5 442.2,382.8 442.9,386.4 443.6,387.5 444.5,386.3 445.3,384.1 446.0,378.3 446.7,375.5 447.6,378.0 448.4,381.5 449.3,379.6 450.1,378.1 451.0,375.1 451.8,372.1 452.7,375.6 453.6,378.9 454.2,376.5 454.8,374.6 455.6,361.8 456.5,358.9 457.3,355.8 458.0,355.5 458.7,355.5 459.4,356.6 460.3,360.1 461.1,360.9 461.9,362.1 462.6,363.0 463.3,363.5 464.1,362.6 464.8,364.5 465.6,365.2 466.4,366.4 467.3,366.1 468.2,362.3 469.0,360.9 469.7,356.6 470.2,359.3 470.7,360.0 471.3,359.7 471.9,360.0" fill="none" stroke="#8C1FA0" stroke-width="1.2" stroke-linejoin="round"/>
<polyline points="0.0,497.9 0.7,496.3 1.4,493.5 2.1,491.6 2.9,490.3 3.8,488.5 4.5,492.5 5.2,493.7 6.0,482.7 6.7,472.8 7.2,460.0 7.7,443.5 8.3,453.0 8.8,464.4 9.3,455.4 9.8,448.7 10.4,456.4 10.9,462.3 11.5,472.5 12.1,485.3 13.0,472.8 13.5,477.5 14.0,483.2 14.5,478.6 15.1,471.7 15.7,477.9 16.3,481.1 17.1,480.0 17.8,483.2 18.5,481.7 19.2,479.0 20.1,482.3 20.9,481.1 21.8,480.5 22.6,476.9 23.3,479.3 24.1,482.2 24.8,475.2 25.5,469.6 26.4,475.5 27.2,482.2 27.9,483.2 28.6,486.7 29.3,489.5 30.0,483.7 30.7,478.2 31.4,472.8 32.1,471.4 32.8,466.9 33.5,464.4 34.3,458.5 35.1,456.0 35.9,445.8 36.6,433.0 37.1,442.2 37.7,453.9 38.4,457.6 39.1,462.3 39.6,465.8 40.2,469.6 41.0,460.8 41.8,452.9 42.7,454.3 43.5,458.1 44.2,462.0 45.0,466.5 45.7,460.7 46.4,449.7 47.1,455.3 47.7,462.3 48.4,479.4 49.2,496.8 49.9,490.3 50.6,481.1 51.5,478.4 52.3,473.8 52.9,473.2 53.6,470.7 54.2,476.9 54.8,481.1 55.4,474.6 56.1,472.8 56.8,453.9 57.5,437.2 58.1,463.5 58.6,489.5 59.3,496.4 60.0,502.1 60.7,502.6 61.3,500.0 62.0,504.7 62.8,508.3 63.6,500.2 64.4,492.6 65.3,501.0 65.9,496.3 66.5,491.6 67.3,487.2 68.0,483.2 68.7,482.5 69.5,481.1 70.3,466.8 71.1,450.8 71.8,455.6 72.4,461.3 73.0,454.5 73.6,449.7 74.3,448.2 74.9,448.7 75.6,446.9 76.4,442.4 76.9,451.8 77.4,458.1 77.9,471.9 78.5,483.2 79.2,469.1 79.9,452.9 80.5,457.5 81.2,460.2 81.9,464.9 82.6,469.6 83.4,476.2 84.1,481.1 84.9,473.1 85.8,467.5 86.4,480.4 87.0,493.7 87.7,499.1 88.3,506.2 89.1,502.9 90.0,497.9 90.8,493.0 91.6,489.5 92.3,487.6 93.0,486.5 93.7,484.3 94.5,469.7 95.2,451.8 95.9,453.5 96.7,457.1 97.3,452.8 97.9,450.8 98.6,458.6 99.4,464.4 100.1,460.5 100.8,459.2 101.5,458.1 102.1,456.0 102.8,467.9 103.6,481.1 104.3,469.0 105.0,457.1 105.6,457.0 106.3,461.3 107.0,459.5 107.7,456.0 108.5,463.8 109.2,472.8 110.0,480.1 110.9,489.5 111.7,497.2 112.6,500.0 113.3,487.7 114.0,473.8 114.7,479.6 115.5,476.9 116.3,474.3 117.2,470.7 118.0,464.0 118.8,458.1 119.6,451.4 120.3,444.5 120.8,456.4 121.3,464.4 122.2,475.9 123.0,487.4 123.7,490.0 124.5,491.6 125.2,479.7 125.9,466.5 126.8,476.9 127.6,489.5 128.5,486.5 129.3,483.2 130.0,474.3 130.8,466.5 131.5,459.2 132.2,455.0 132.8,463.9 133.5,470.7 134.2,464.7 134.9,457.1 135.7,450.4 136.4,443.5 137.2,440.8 138.1,440.3 138.9,443.7 139.7,451.8 140.5,464.5 141.2,475.9 141.9,469.0 142.7,462.3 143.5,463.9 144.4,469.6 145.2,466.9 146.0,464.4 146.9,463.1 147.7,465.4 148.5,458.6 149.4,451.8 150.2,456.2 151.0,460.2 151.9,469.0 152.7,476.9 153.6,471.5 154.4,465.4 155.1,464.1 155.9,462.3 156.6,452.6 157.3,445.6 157.9,437.8 158.6,430.9 159.3,425.1 160.0,420.5 160.8,420.2 161.7,420.5 162.5,430.9 163.3,434.4 164.2,437.2 164.7,435.3 165.2,432.0 166.0,441.3 166.7,446.6 167.3,445.1 167.9,449.7 168.6,457.6 169.2,464.4 169.8,457.4 170.5,450.8 171.3,448.8 172.1,441.4 172.9,447.7 173.6,451.8 174.3,445.7 175.1,443.5 175.9,441.3 176.7,438.2 177.6,439.2 178.4,441.4 179.1,445.0 179.8,445.0 180.5,448.7 181.2,441.3 182.0,434.1 182.5,448.0 183.0,462.3 183.5,477.9 184.1,493.7 184.6,496.6 185.1,501.0 185.9,495.1 186.8,493.7 187.5,473.3 188.2,451.8 188.8,443.6 189.3,433.0 190.1,438.2 191.0,443.5 191.7,441.2 192.4,441.4 193.2,443.7 193.9,445.6 194.7,445.2 195.6,443.5 196.1,453.7 196.6,464.4 197.1,471.7 197.7,479.0 198.5,482.8 199.3,483.2 200.1,473.0 200.8,465.4 201.5,467.4 202.3,470.7 202.9,478.3 203.5,490.5 204.1,482.4 204.8,475.9 205.4,480.8 206.0,487.4 206.9,485.2 207.7,485.3 208.5,488.1 209.4,492.6 210.2,493.2 211.0,489.5 211.7,496.1 212.3,503.1 212.9,497.2 213.6,491.6 214.2,481.7 214.8,466.5 215.4,474.8 216.1,483.2 216.8,489.5 217.5,500.0 218.3,500.4 219.0,500.0 219.8,485.2 220.7,472.8 221.4,466.4 222.1,456.0 222.8,461.9 223.4,470.7 224.1,460.6 224.9,451.8 225.4,446.3 225.9,444.5 226.6,451.4 227.4,458.1 228.2,455.3 229.0,455.0 229.9,448.1 230.7,441.4 231.4,437.8 232.2,435.1 232.9,431.8 233.6,429.9 234.3,430.0 234.9,427.8 235.6,440.4 236.4,450.8 237.1,451.9 237.8,452.9 238.5,451.3 239.1,451.8 239.8,455.3 240.5,461.3 241.3,462.1 242.0,462.3 242.6,467.3 243.3,466.5 243.8,452.3 244.3,439.3 244.8,444.6 245.4,451.8 246.1,444.2 246.8,438.2 247.3,458.9 247.9,482.2 248.7,476.3 249.5,472.8 250.3,477.2 251.0,482.2 251.5,455.7 252.1,425.7 252.9,424.1 253.7,422.6 254.5,421.4 255.2,421.5 255.9,424.3 256.7,430.9 257.3,430.7 257.9,429.9 258.6,433.5 259.4,437.2 260.1,443.0 260.8,451.8 261.7,464.7 262.5,480.1 263.0,482.6 263.6,485.3 264.1,474.0 264.6,460.2 265.4,461.5 266.3,461.3 267.0,477.7 267.7,493.7 268.3,486.0 268.8,479.0 269.6,475.2 270.5,470.7 271.2,472.7 271.9,474.9 272.7,479.6 273.4,479.0 274.2,467.2 275.1,458.1 275.6,449.8 276.1,442.4 276.8,454.9 277.6,464.4 278.2,468.3 278.8,472.8 279.7,507.3 280.3,495.9 280.9,481.1 281.7,475.8 282.4,470.7 282.9,480.8 283.4,490.5 284.0,477.0 284.5,464.4 285.2,465.9 285.9,470.7 286.6,466.9 287.2,465.4 287.9,472.8 288.7,474.9 289.4,476.7 290.1,476.9 290.8,465.6 291.4,452.9 292.1,466.1 292.8,476.9 293.6,478.7 294.3,479.0 294.9,489.7 295.6,497.9 296.3,481.3 297.0,465.4 297.8,473.0 298.5,481.1 299.1,476.0 299.7,468.6 300.5,461.9 301.2,456.0 301.9,449.2 302.7,445.6 303.3,446.9 303.9,448.7 304.7,445.4 305.4,443.5 306.2,442.6 307.1,440.3 307.6,443.7 308.1,448.7 308.8,452.7 309.6,459.2 310.1,478.1 310.6,497.9 311.5,503.4 312.3,505.2 313.0,499.4 313.8,493.7 314.3,502.2 314.8,510.4 315.6,502.6 316.5,494.7 317.2,494.6 317.9,493.7 318.6,494.4 319.3,494.7 320.0,492.6 320.8,488.6 321.7,488.5 322.3,479.1 322.9,466.5 323.8,472.8 324.5,463.3 325.2,453.9 326.0,461.9 326.7,470.7 327.3,477.7 327.9,479.0 328.7,490.3 329.4,502.1 330.1,508.0 330.9,509.4 331.5,512.1 332.1,512.5 332.9,506.0 333.6,502.1 334.3,501.1 335.1,498.9 335.9,497.2 336.7,493.7 337.6,487.3 338.4,481.1 339.1,466.3 339.9,457.1 340.6,467.6 341.3,479.0 342.0,483.5 342.6,488.5 343.3,482.4 344.1,479.0 344.8,477.0 345.5,470.7 346.2,481.9 346.8,493.7 347.5,486.9 348.2,481.1 349.0,487.6 349.7,494.7 350.5,489.1 351.4,485.3 352.0,488.0 352.6,492.6 353.3,483.9 353.9,474.9 354.5,472.1 355.1,468.6 355.9,469.5 356.6,471.7 357.3,469.0 358.1,466.5 358.7,468.0 359.3,472.8 360.1,477.6 360.8,481.1 361.3,490.7 361.8,502.1 362.5,507.0 363.1,511.5 363.7,507.2 364.4,505.2 365.2,505.1 366.0,506.2 366.9,503.4 367.7,500.0 368.4,499.6 369.2,502.1 369.9,501.4 370.6,494.7 371.3,493.1 371.9,491.6 372.5,499.9 373.1,508.3 373.8,500.6 374.4,494.7 375.0,501.9 375.6,505.2 376.3,501.1 376.9,493.7 377.5,471.6 378.2,448.7 378.9,443.4 379.6,441.4 380.4,437.6 381.1,435.1 381.7,441.1 382.3,445.6 383.0,445.3 383.7,444.8 384.4,446.6 385.2,454.1 385.9,464.4 386.4,468.7 386.9,474.9 387.8,469.6 388.6,464.4 389.4,457.3 390.1,451.8 390.6,450.3 391.1,448.7 391.8,464.1 392.4,472.8 393.0,485.3 393.6,493.7 394.3,495.6 394.9,500.0 395.6,506.1 396.4,511.5 397.1,506.9 397.8,502.1 398.7,501.4 399.5,501.0 400.3,497.5 401.2,491.6 401.9,487.0 402.6,483.2 403.2,467.1 403.7,451.8 404.3,462.9 404.9,474.9 405.6,467.4 406.2,460.2 406.8,458.1 407.4,452.9 408.1,454.3 408.7,453.9 409.3,439.2 410.0,427.8 410.6,444.5 411.2,462.3 411.8,463.4 412.5,467.5 413.1,468.6 413.8,467.5 414.5,466.9 415.2,464.4 415.7,463.8 416.2,463.3 417.1,470.5 417.9,482.2 418.6,468.6 419.4,453.9 420.0,451.8 420.6,449.7 421.3,446.6 421.9,461.3 422.5,479.0 423.3,469.2 424.2,459.2 425.0,466.2 425.9,474.9 426.7,472.5 427.5,471.7 428.4,471.6 429.2,470.7 430.0,468.5 430.9,465.4 431.7,468.0 432.6,472.8 433.3,474.9 434.0,481.1 434.7,475.0 435.5,474.9 436.1,482.0 436.7,490.5 437.5,494.5 438.2,495.8 438.9,497.3 439.7,498.9 440.5,502.0 441.3,510.4 441.9,502.1 442.4,495.8 442.9,501.5 443.4,506.2 444.3,505.6 445.1,501.0 445.9,501.4 446.8,498.9 447.6,498.3 448.5,496.8 449.1,492.3 449.7,487.4 450.5,488.7 451.4,492.6 452.1,486.3 452.8,481.1 453.6,475.5 454.3,470.7 454.9,464.5 455.6,460.2 456.3,450.9 457.0,441.4 457.6,435.2 458.1,429.9 458.9,432.9 459.7,435.1 460.5,436.8 461.2,435.1 461.9,431.8 462.7,426.7 463.5,431.9 464.4,436.2 464.9,436.4 465.4,437.2 465.9,451.1 466.4,468.6 467.1,486.7 467.7,505.2 468.3,496.9 469.0,487.4 469.6,478.9 470.2,472.8 470.8,472.7 471.5,469.6 471.9,474.9" fill="none" stroke="#40881F" stroke-width="1.15" stroke-linejoin="round"/>
<rect x="885" y="0" width="47" height="550" fill="#fff"/>
<rect x="0" y="521.9" width="932" height="28.100000000000023" fill="#fff"/>
<line x1="0" y1="329.5" x2="932" y2="329.5" stroke="#8A8C9B" stroke-width="1"/>
<line x1="0" y1="408.35" x2="932" y2="408.35" stroke="#7E8092" stroke-width="1"/>
<line x1="0" y1="521.95" x2="932" y2="521.95" stroke="#878A99" stroke-width="1.5"/>
<line x1="885.2" y1="0" x2="885.2" y2="550" stroke="#7D7F92" stroke-width="1"/>
<g stroke="#7B7D8E" stroke-width="1.1"><line x1="885" y1="28.9" x2="889" y2="28.9"/><line x1="885" y1="68.5" x2="889" y2="68.5"/><line x1="885" y1="108.2" x2="889" y2="108.2"/><line x1="885" y1="147.8" x2="889" y2="147.8"/><line x1="885" y1="187.4" x2="889" y2="187.4"/><line x1="885" y1="227.4" x2="889" y2="227.4"/><line x1="885" y1="266.6" x2="889" y2="266.6"/><line x1="885" y1="306.3" x2="889" y2="306.3"/><line x1="885" y1="344.9" x2="889" y2="344.9"/><line x1="885" y1="376.5" x2="889" y2="376.5"/><line x1="885" y1="437.4" x2="889" y2="437.4"/><line x1="885" y1="477.9" x2="889" y2="477.9"/><line x1="885" y1="518.5" x2="889" y2="518.5"/><line x1="93.6" y1="521.9" x2="93.6" y2="525.6999999999999"/><line x1="188.3" y1="521.9" x2="188.3" y2="525.6999999999999"/><line x1="282.6" y1="521.9" x2="282.6" y2="525.6999999999999"/><line x1="408.5" y1="521.9" x2="408.5" y2="525.6999999999999"/><line x1="483.0" y1="521.9" x2="483.0" y2="525.6999999999999"/><line x1="566.5" y1="521.9" x2="566.5" y2="525.6999999999999"/><line x1="640.8" y1="521.9" x2="640.8" y2="525.6999999999999"/><line x1="724.5" y1="521.9" x2="724.5" y2="525.6999999999999"/></g>
<text transform="translate(892.7,33.8) scale(0.845,1)" text-anchor="start" font-size="12" fill="#4F525E">340.00</text>
<text transform="translate(892.7,73.4) scale(0.845,1)" text-anchor="start" font-size="12" fill="#4F525E">336.00</text>
<text transform="translate(892.7,113.10000000000001) scale(0.845,1)" text-anchor="start" font-size="12" fill="#4F525E">332.00</text>
<text transform="translate(892.7,152.70000000000002) scale(0.845,1)" text-anchor="start" font-size="12" fill="#4F525E">328.00</text>
<text transform="translate(892.7,192.3) scale(0.845,1)" text-anchor="start" font-size="12" fill="#4F525E">324.00</text>
<text transform="translate(892.7,232.3) scale(0.845,1)" text-anchor="start" font-size="12" fill="#4F525E">320.00</text>
<text transform="translate(892.7,271.5) scale(0.845,1)" text-anchor="start" font-size="12" fill="#4F525E">316.00</text>
<text transform="translate(892.7,311.2) scale(0.845,1)" text-anchor="start" font-size="12" fill="#4F525E">312.00</text>
<text transform="translate(892.7,349.79999999999995) scale(0.845,1)" text-anchor="start" font-size="12" fill="#4F525E">80.00</text>
<text transform="translate(892.7,381.4) scale(0.845,1)" text-anchor="start" font-size="12" fill="#4F525E">40.00</text>
<text transform="translate(892.7,442.29999999999995) scale(0.845,1)" text-anchor="start" font-size="12" fill="#4F525E">80.00</text>
<text transform="translate(892.7,482.79999999999995) scale(0.845,1)" text-anchor="start" font-size="12" fill="#4F525E">40.00</text>
<g clip-path="url(#zclip)"><text transform="translate(892.7,523.4) scale(0.845,1)" text-anchor="start" font-size="12" fill="#4F525E">0.00</text></g>
<text transform="translate(93.89999999999999,541.2) scale(0.845,1)" text-anchor="middle" font-size="12" fill="#4F525E">26</text>
<text transform="translate(188.60000000000002,541.2) scale(0.95,1)" text-anchor="middle" font-size="12" fill="#4F525E">Jul</text>
<text transform="translate(282.90000000000003,541.2) scale(0.845,1)" text-anchor="middle" font-size="12" fill="#4F525E">7</text>
<text transform="translate(408.8,541.2) scale(0.845,1)" text-anchor="middle" font-size="12" fill="#4F525E">13</text>
<text transform="translate(483.3,541.2) scale(0.845,1)" text-anchor="middle" font-size="12" fill="#4F525E">12:00</text>
<text transform="translate(566.8,541.2) scale(0.845,1)" text-anchor="middle" font-size="12" fill="#4F525E">20</text>
<text transform="translate(641.0999999999999,541.2) scale(0.845,1)" text-anchor="middle" font-size="12" fill="#4F525E">12:00</text>
<text transform="translate(724.8,541.2) scale(0.845,1)" text-anchor="middle" font-size="12" fill="#4F525E">27</text>
<rect x="885.5" y="248.6" width="46" height="17" fill="#26A69A"/>
<line x1="885" y1="256.8" x2="889" y2="256.8" stroke="#fff" stroke-width="1.1"/>
<text transform="translate(892.7,260.6) scale(0.845,1)" text-anchor="start" font-size="12" fill="#fff">317.00</text>
<rect x="885.5" y="271.8" width="46" height="17" fill="#787B86"/>
<line x1="885" y1="280.4" x2="889" y2="280.4" stroke="#fff" stroke-width="1.1"/>
<text transform="translate(892.7,284.5) scale(0.845,1)" text-anchor="start" font-size="12" fill="#fff">314.65</text>
<circle cx="20.5" cy="499.6" r="15" fill="#fff" stroke="#E6E8EC" stroke-width="1"/>
<g transform="translate(20.5,499.5)"><path d="M-6.4 5 A3.45 3.45 0 0 1 -6.9 -1.8 A5 5 0 1 1 3.0 -2.6 A4.2 4.2 0 1 1 5.8 5 Z" fill="#4BA3EE"/><path d="M-9.4 2.6 L-2.8 -3.0 L2.2 2.4 L7.2 -3.0" fill="none" stroke="#fff" stroke-width="1.5" stroke-linejoin="miter"/></g>
</svg>
</body></html>
